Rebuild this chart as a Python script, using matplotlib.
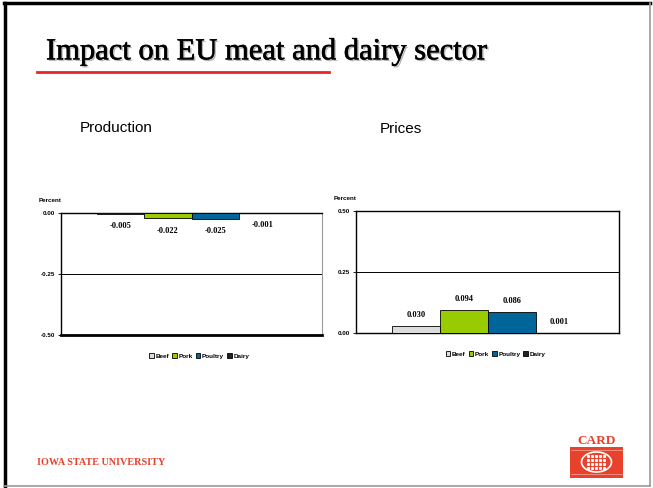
import matplotlib as mpl
mpl.use('Agg')
import matplotlib.pyplot as plt
import matplotlib.patheffects as pe
from matplotlib.patches import Patch, Rectangle, Ellipse
import numpy as np

# data
meats = ['Beef', 'Pork', 'Poultry', 'Dairy']
production = [-0.005, -0.022, -0.025, -0.001]
prices = [0.030, 0.094, 0.086, 0.001]
prod_ticks = [0.0, -0.25, -0.50]
price_ticks = [0.50, 0.25, 0.0]
colors = ['#dcdcdc', '#99cc00', '#006699', '#222222']

W, H = 653, 488
fig = plt.figure(figsize=(W / 100, H / 100), dpi=100)
fig.patch.set_facecolor('white')


def px_axes(x0, y0, x1, y1):
    # axes placed by pixel box of the slide
    return fig.add_axes([x0 / W, 1 - y1 / H, (x1 - x0) / W, (y1 - y0) / H])


tick_font = dict(family='Liberation Sans', size=4.5, weight='bold')


def draw_panel(ax, values, ticks, lo, hi, above):
    x = np.arange(len(values))
    bars = ax.bar(x, values, width=1.0, color=colors, edgecolor='black', linewidth=0.6, zorder=3)
    ax.set_xlim(-1.25, len(values) + 0.25)
    ax.set_ylim(lo, hi)
    ax.set_xticks([])
    ax.set_yticks(ticks)
    ax.set_yticklabels(['%.2f' % t for t in ticks], fontdict=tick_font)
    ax.tick_params(axis='y', length=2, width=0.6, pad=2)
    ax.axhline(0.25 if hi > 0 else -0.25, color='black', lw=0.7, zorder=1)
    for b, v in zip(bars, values):
        off = 8 if above else -9
        ax.annotate('%.3f' % v, (b.get_x() + b.get_width() / 2, v),
                    xytext=(0, off), textcoords='offset points',
                    ha='center', va='center', fontfamily='Liberation Serif',
                    fontsize=6, fontweight='bold')
    ax.text(-0.085, 1.1, 'Percent', transform=ax.transAxes, fontsize=4.5,
            fontweight='bold', family='Liberation Sans', ha='left', va='center')
    handles = [Patch(facecolor=c, edgecolor='black', linewidth=0.6) for c in colors]
    ax.legend(handles, meats, loc='center', bbox_to_anchor=(0.53, -0.17), ncol=4,
              frameon=False, handlelength=0.7, handleheight=0.7, handletextpad=0.25,
              columnspacing=0.5, prop=dict(family='Liberation Sans', size=4.6, weight='bold'))


# left panel: production
ax1 = px_axes(61, 212.7, 322, 335)
draw_panel(ax1, production, prod_ticks, -0.5, 0.0, above=False)
ax1.spines['right'].set_color('#999999')
ax1.spines['bottom'].set_linewidth(2)
for s in ['top', 'left']:
    ax1.spines[s].set_linewidth(1.0)

# right panel: prices
ax2 = px_axes(356, 210.7, 619.3, 333.3)
draw_panel(ax2, prices, price_ticks, 0.0, 0.5, above=True)
for s in ax2.spines.values():
    s.set_linewidth(1.0)

fig.text(80 / W, 1 - 128 / H, 'Production', fontsize=11, family='Liberation Sans', va='center')
fig.text(380 / W, 1 - 129 / H, 'Prices', fontsize=11, family='Liberation Sans', va='center')

# slide decoration in pixel coordinates
deco = fig.add_axes([0, 0, 1, 1], zorder=5)
deco.set_xlim(0, W)
deco.set_ylim(H, 0)
deco.axis('off')
deco.patch.set_alpha(0)

deco.plot([5, 5], [3, 486], color='black', lw=2.5)
deco.plot([4, 650], [3, 3], color='black', lw=2.5)
deco.plot([650, 650], [3, 486], color='#999999', lw=1.2)
deco.plot([4, 650], [486, 486], color='#999999', lw=1.2)

deco.text(46, 59.3, 'Impact on EU meat and dairy sector', fontsize=22, family='Liberation Serif',
          ha='left', va='baseline', color='black',
          path_effects=[pe.SimplePatchShadow(offset=(1.2, -1.2), shadow_rgbFace='#999999', alpha=0.7),
                        pe.withStroke(linewidth=0.4, foreground='black')])
deco.plot([37, 329], [71.7, 71.7], color='#ee2222', lw=2)

red = '#e8412c'
deco.text(37, 462.5, 'IOWA STATE UNIVERSITY', fontsize=7.3, family='Liberation Serif',
          fontweight='bold', color=red, ha='left', va='center')

# CARD logo
deco.add_patch(Rectangle((570, 447), 53, 31, facecolor=red, edgecolor='none'))
deco.text(596.5, 441.5, 'CARD', fontsize=9.5, family='Liberation Serif', fontweight='bold',
          color=red, ha='center', va='center')
deco.add_patch(Ellipse((596.5, 462), 30, 20, facecolor='none', edgecolor='white', lw=1.2))
for gx in np.arange(588, 606, 4):
    for gy in np.arange(456, 470, 4):
        deco.plot(gx, gy, 's', color='white', ms=1.2)
for ly in [450, 474]:
    deco.plot([571, 622], [ly, ly], color='white', lw=0.4, alpha=0.7)

fig.savefig('out.png', dpi=100)
